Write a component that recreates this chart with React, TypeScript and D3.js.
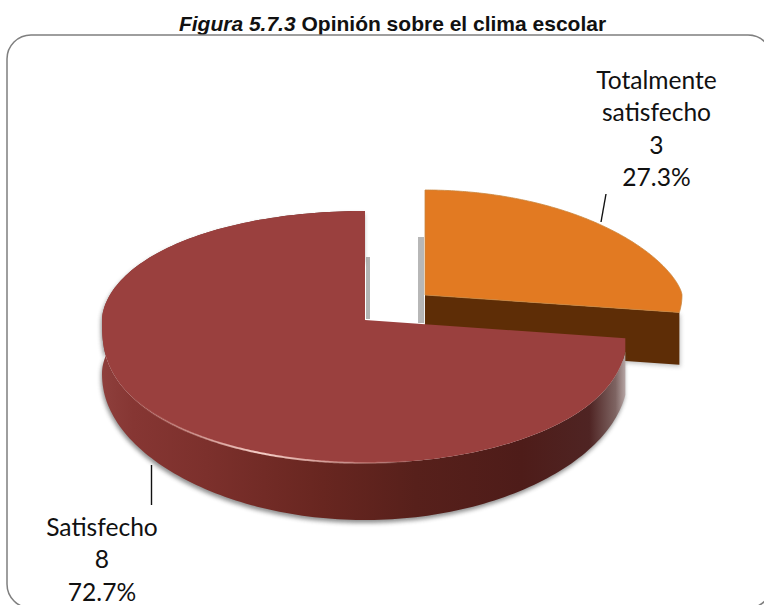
import React from "react";
import * as d3 from "d3";

const categories = ["Totalmente satisfecho", "Satisfecho"];
const counts = [3, 8];
const percents = ["27.3%", "72.7%"];
const colorsTop = ["#E27A22", "#9A403E"];
const titleItalic = "Figura 5.7.3";
const titleBold = " Opinión sobre el clima escolar";

const W = 764;
const H = 605;

const pie = d3.pie<number>().sort(null).value((d) => d);
const arcs = pie(counts);

type Geo = {
  ax: number; ay: number; rx: number; ryMid: number; ryBias: number;
  dBase: number; dBias: number; backExp: number; frontExp: number; bottomExp: number;
};
const geoOrange: Geo = { ax: 425, ay: 295, rx: 257, ryMid: 120, ryBias: 15, dBase: 52, dBias: 3, backExp: 1.4, frontExp: 1, bottomExp: 1 };
const geoMaroon: Geo = { ax: 365, ay: 320, rx: 263, ryMid: 126, ryBias: 17, dBase: 53, dBias: 4, backExp: 1.12, frontExp: 0.72, bottomExp: 0.92 };

const shape = (g: Geo, v: number, exp: number) => {
  const w = v < 0 ? -Math.pow(-v, g.backExp) : Math.pow(v, exp);
  return g.ay + w * (g.ryMid + g.ryBias * v);
};
const proj = (g: Geo, t: number): [number, number] => {
  const v = -Math.cos(t);
  return [g.ax + g.rx * Math.sin(t), shape(g, v, g.frontExp)];
};
const projLow = (g: Geo, t: number): [number, number] => {
  const v = -Math.cos(t);
  return [g.ax + g.rx * Math.sin(t), shape(g, v, g.bottomExp) + g.dBase + g.dBias * v];
};
const projFlat = (g: Geo, t: number): [number, number] => {
  const v = -Math.cos(t);
  return [g.ax + g.rx * Math.sin(t), shape(g, v, 1)];
};

const line = d3.line<[number, number]>().x((d) => d[0]).y((d) => d[1]);
const samples = (a: number, b: number, n = 200) => d3.range(n + 1).map((i) => a + ((b - a) * i) / n);

const topFace = (g: Geo, a: number, b: number) =>
  line([[g.ax, g.ay], projFlat(g, a), ...samples(a, b).map((t) => proj(g, t))])! + "Z";
const wall = (g: Geo, a: number, b: number) =>
  line([projFlat(g, a), ...samples(a, b).map((t) => proj(g, t)), ...samples(b, a).map((t) => projLow(g, t))])! + "Z";
const rimPath = (g: Geo, a: number, b: number) => line(samples(a, b).map((t) => proj(g, t)))!;

const wallStops: [number, string][] = [
  [0, "#8E3F3C"],
  [0.06, "#863633"],
  [0.2, "#7C302C"],
  [0.42, "#682620"],
  [0.6, "#57201B"],
  [0.8, "#4E1C19"],
  [0.93, "#4F2423"],
  [0.98, "#7E6462"],
  [1, "#B9A9A8"],
];

const orangeArc = arcs[0];
const maroonArc = arcs[1];
const maroonStart = maroonArc.startAngle;
const maroonEnd = maroonArc.endAngle;

export default function App() {
  const orangeEnd = orangeArc.endAngle;
  const pRight = proj(geoOrange, orangeEnd);
  const pRightB = projLow(geoOrange, orangeEnd);
  const apexB: [number, number] = [geoOrange.ax, geoOrange.ay + geoOrange.dBase];
  const orangeSide = line([[geoOrange.ax, geoOrange.ay], pRight, pRightB, apexB])! + "Z";
  const maroonOutline = wall(geoMaroon, maroonStart, maroonEnd);
  return (
    <svg
      width={W}
      height={H}
      viewBox={`0 0 ${W} ${H}`}
      style={{ position: "absolute", left: 0, top: 0, background: "#fff" }}
    >
      <defs>
        <linearGradient id="wallGrad" gradientUnits="userSpaceOnUse" x1={102} x2={626} y1={0} y2={0}>
          {wallStops.map(([o, c]) => (
            <stop key={o} offset={o} stopColor={c} />
          ))}
        </linearGradient>
        <linearGradient id="rimGrad" gradientUnits="userSpaceOnUse" x1={130} x2={420} y1={0} y2={0}>
          <stop offset={0} stopColor="#F0B8B0" stopOpacity={0} />
          <stop offset={0.45} stopColor="#F6CFC8" stopOpacity={1} />
          <stop offset={1} stopColor="#F0B8B0" stopOpacity={0} />
        </linearGradient>
        <filter id="blur" x="-10%" y="-10%" width="120%" height="120%">
          <feGaussianBlur stdDeviation={2.2} />
        </filter>
        <filter id="soft" x="-30%" y="-10%" width="160%" height="120%">
          <feGaussianBlur stdDeviation={0.7} />
        </filter>
      </defs>

      <text x={392.5} y={30.5} textAnchor="middle" fontFamily="Liberation Sans" fontSize={21} fontWeight={700} fill="#111">
        <tspan fontStyle="italic">{titleItalic}</tspan>
        <tspan>{titleBold}</tspan>
      </text>

      <rect x={7} y={35} width={765} height={573} rx={24} ry={24} fill="none" stroke="#7F7F7F" strokeWidth={1.5} />

      {/* orange slice */}
      <rect x={418} y={237} width={6} height={86} fill="#9A9A9A" opacity={0.7} filter="url(#soft)" />
      <path d={orangeSide} transform="translate(1,2)" fill="#777" opacity={0.45} filter="url(#blur)" />
      <path d={orangeSide} fill="#5E2D06" />
      <path
        d={topFace(geoOrange, orangeArc.startAngle, orangeEnd)}
        fill={colorsTop[0]}
        stroke="#C9873F"
        strokeWidth={0.8}
      />

      {/* maroon slice */}
      <rect x={366} y={257} width={4} height={62} fill="#9A9A9A" opacity={0.75} filter="url(#soft)" />
      <path d={maroonOutline} transform="translate(-1,3)" fill="#555" opacity={0.65} filter="url(#blur)" />
      <path d={maroonOutline} fill="url(#wallGrad)" />
      <path d={topFace(geoMaroon, maroonStart, maroonEnd)} fill={colorsTop[1]} />
      <path
        d={rimPath(geoMaroon, Math.PI * 1.45, Math.PI * 0.95)}
        fill="none"
        stroke="url(#rimGrad)"
        strokeWidth={2}
        filter="url(#soft)"
      />

      {/* leader lines */}
      <line x1={606} y1={194} x2={601} y2={222} stroke="#111" strokeWidth={1.4} />
      <line x1={151.5} y1={465} x2={151.5} y2={505} stroke="#111" strokeWidth={1.4} />

      {/* labels */}
      <g fontFamily="Lato" fontSize={24.6} fill="#111" textAnchor="middle">
        <text x={656.5} y={89}>Totalmente</text>
        <text x={656.5} y={121}>satisfecho</text>
        <text x={656.5} y={154}>{counts[0]}</text>
        <text x={656.5} y={186}>{percents[0]}</text>
        <text x={102} y={536}>{categories[1]}</text>
        <text x={102} y={568}>{counts[1]}</text>
        <text x={102} y={600.5}>{percents[1]}</text>
      </g>
    </svg>
  );
}
